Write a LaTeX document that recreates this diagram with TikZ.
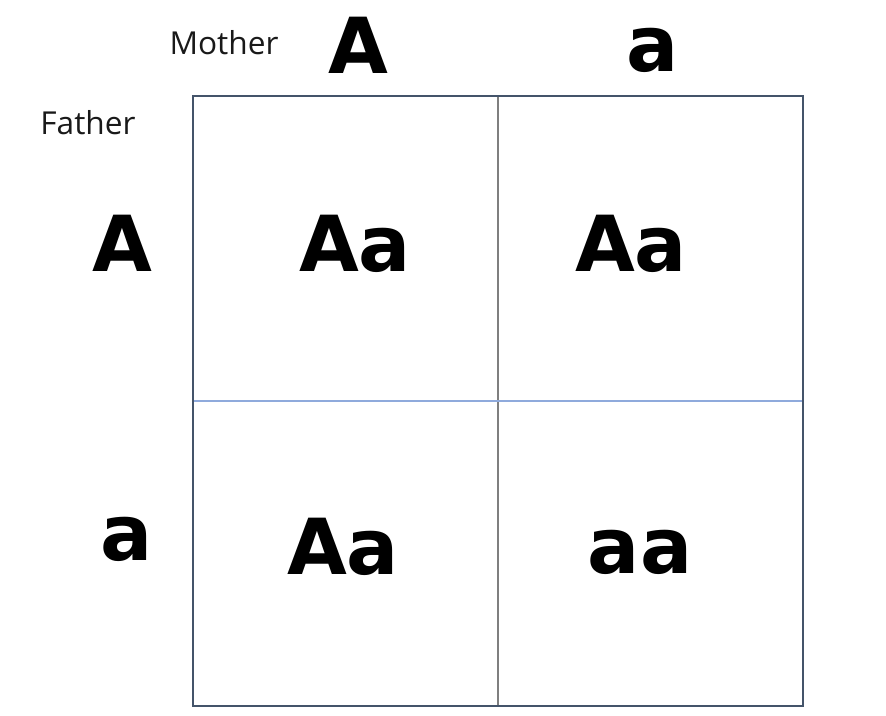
\documentclass[tikz,border=0pt]{standalone}
\usepackage{fontspec}
\setmainfont{Open Sans}
\newfontfamily\bigfont{DejaVu Sans}
\usepackage{xcolor}
\usepackage{tikz}
\usetikzlibrary{positioning, calc}

\definecolor{frameblue}{HTML}{44546A}
\definecolor{gridgray}{HTML}{7F7F7F}
\definecolor{gridblue}{HTML}{8FAADC}

\begin{document}
\begin{tikzpicture}[
    x=0.02cm, y=-0.02cm,
    label/.style={anchor=base, font=\fontsize{18}{20}\selectfont, text=black!90},
    allele/.style={anchor=base, font=\bigfont\fontsize{44}{48}\selectfont\bfseries},
    cell/.style={anchor=base, font=\bigfont\fontsize{44}{48}\selectfont\bfseries}
]
    \useasboundingbox (0,0) rectangle (886,716);

    % Grid
    \coordinate (tl) at (193,96);
    \coordinate (br) at (803,706);
    \draw[gridgray, line width=0.8pt] (498,96) coordinate (vt) -- (498,706) coordinate (vb);
    \draw[gridblue, line width=0.8pt] (193,401) coordinate (hl) -- (803,401) coordinate (hr);
    \draw[frameblue, line width=1pt] (tl) rectangle (br);

    % Parents
    \node[label] (mother) at (224,55) {Mother};
    \node[label] (father) at (88,135) {Father};

    % Mother alleles
    \node[allele] (mA) at (358,74) {A};
    \node[allele] (ma) at (653,72) {a};

    % Father alleles
    \node[allele] (fA) at (122,272) {A};
    \node[allele] (fa) at (127,560) {a};

    % Offspring
    \node[cell] (c11) at (355,272) {Aa};
    \node[cell] (c12) at (631,272) {Aa};
    \node[cell] (c21) at (343,574) {Aa};
    \node[cell] (c22) at (640,573) {aa};

\end{tikzpicture}
\end{document}
